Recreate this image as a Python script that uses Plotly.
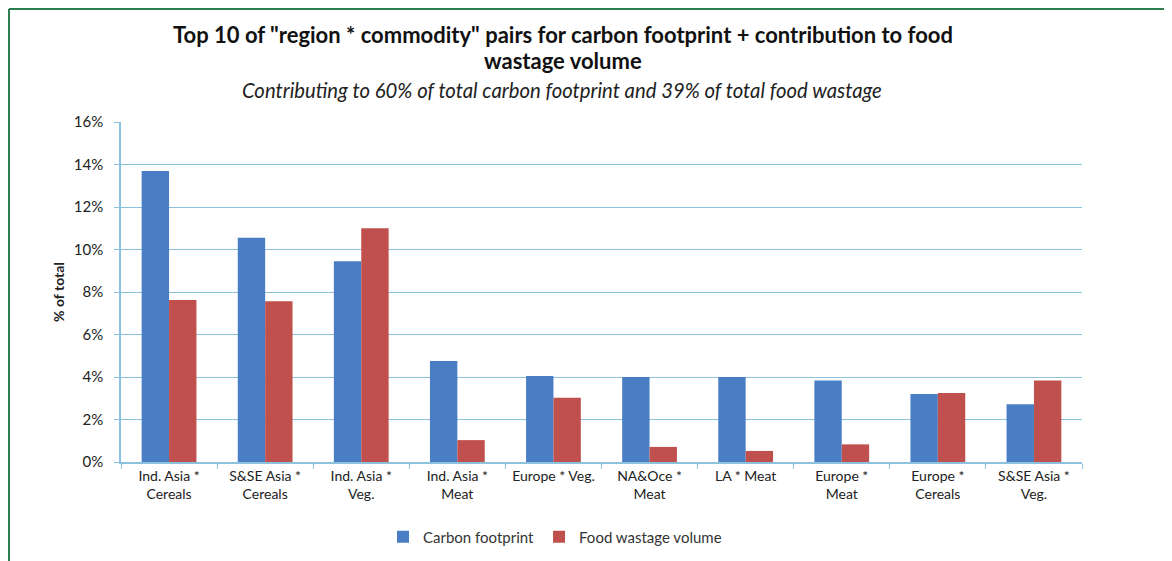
import plotly.graph_objects as go

categories = ["Ind. Asia *<br>Cereals", "S&SE Asia *<br>Cereals", "Ind. Asia *<br>Veg.",
              "Ind. Asia *<br>Meat", "Europe * Veg.", "NA&Oce *<br>Meat", "LA * Meat",
              "Europe *<br>Meat", "Europe *<br>Cereals", "S&SE Asia *<br>Veg."]
carbon_footprint = [13.7, 10.55, 9.45, 4.75, 4.05, 4.0, 4.0, 3.83, 3.2, 2.72]
food_wastage = [7.62, 7.57, 11.0, 1.03, 3.02, 0.71, 0.52, 0.83, 3.25, 3.84]
y_ticks = [0, 2, 4, 6, 8, 10, 12, 14, 16]
y_tick_labels = ["0%", "2%", "4%", "6%", "8%", "10%", "12%", "14%", "16%"]

OFF = 8  # page body margin
W, H = 1172 - OFF, 561 - OFF
L, T = 121 - OFF, 122 - OFF
R = W - (1082 - OFF)
B = H - (462 - OFF)
pw, ph = W - L - R, H - T - B

def px(x):
    return (x - OFF - L) / pw

def py(y):
    return (H - B - (y - OFF)) / ph

FONT = "Lato"
grid = "#8CC2DE"

fig = go.Figure()
fig.add_trace(go.Bar(x=categories, y=carbon_footprint, name="Carbon footprint",
                     marker=dict(color="#4A7EC4", line=dict(width=0))))
fig.add_trace(go.Bar(x=categories, y=food_wastage, name="Food wastage volume",
                     marker=dict(color="#C0504D", line=dict(width=0))))

fig.update_layout(
    width=W, height=H,
    margin=dict(l=L, r=R, t=T, b=B, autoexpand=False),
    paper_bgcolor="white", plot_bgcolor="white",
    barmode="group", bargap=0.43, bargroupgap=0,
    font=dict(family=FONT, size=14, color="#222"),
    showlegend=True,
    legend=dict(orientation="h", x=px(555), xanchor="center", y=py(537), yanchor="middle",
                font=dict(size=15, color="#333"), itemwidth=30, traceorder="normal",
                bgcolor="rgba(0,0,0,0)"),
    xaxis=dict(showline=True, linecolor=grid, linewidth=1.5, ticks="outside",
               tickson="boundaries", ticklen=5, tickcolor=grid,
               tickfont=dict(size=14, color="#222"), showgrid=False, fixedrange=True),
    yaxis=dict(range=[0, 16], tickmode="array", tickvals=y_ticks, ticktext=y_tick_labels,
               showgrid=True, gridcolor=grid, gridwidth=1.2, showline=True, linecolor=grid,
               linewidth=1.5, ticks="outside", ticklen=5, tickcolor=grid, zeroline=False,
               ticklabelstandoff=8,
               tickfont=dict(size=15, color="#222"),
               title=dict(text="<b>% of total</b>", font=dict(size=14, color="#222"), standoff=6)),
)

fig.add_annotation(text="<b>Top 10 of \"region * commodity\" pairs for carbon footprint + contribution to food</b>",
                   x=px(563), y=py(34), xref="paper", yref="paper", showarrow=False,
                   xanchor="center", yanchor="middle", font=dict(size=22, color="#111"))
fig.add_annotation(text="<b>wastage volume</b>",
                   x=px(563), y=py(61), xref="paper", yref="paper", showarrow=False,
                   xanchor="center", yanchor="middle", font=dict(size=22, color="#111"))
fig.add_annotation(text="<i>Contributing to 60% of total carbon footprint and 39% of total food wastage</i>",
                   x=px(562), y=py(90), xref="paper", yref="paper", showarrow=False,
                   xanchor="center", yanchor="middle", font=dict(size=20.3, color="#222"))

border = "#2E7D4F"
fig.add_shape(type="line", xref="paper", yref="paper", x0=px(9), x1=px(9), y0=py(9), y1=py(561),
              line=dict(color=border, width=2))
fig.add_shape(type="line", xref="paper", yref="paper", x0=px(9), x1=px(1172), y0=py(9), y1=py(9),
              line=dict(color=border, width=2))

fig.write_html("out.html")
